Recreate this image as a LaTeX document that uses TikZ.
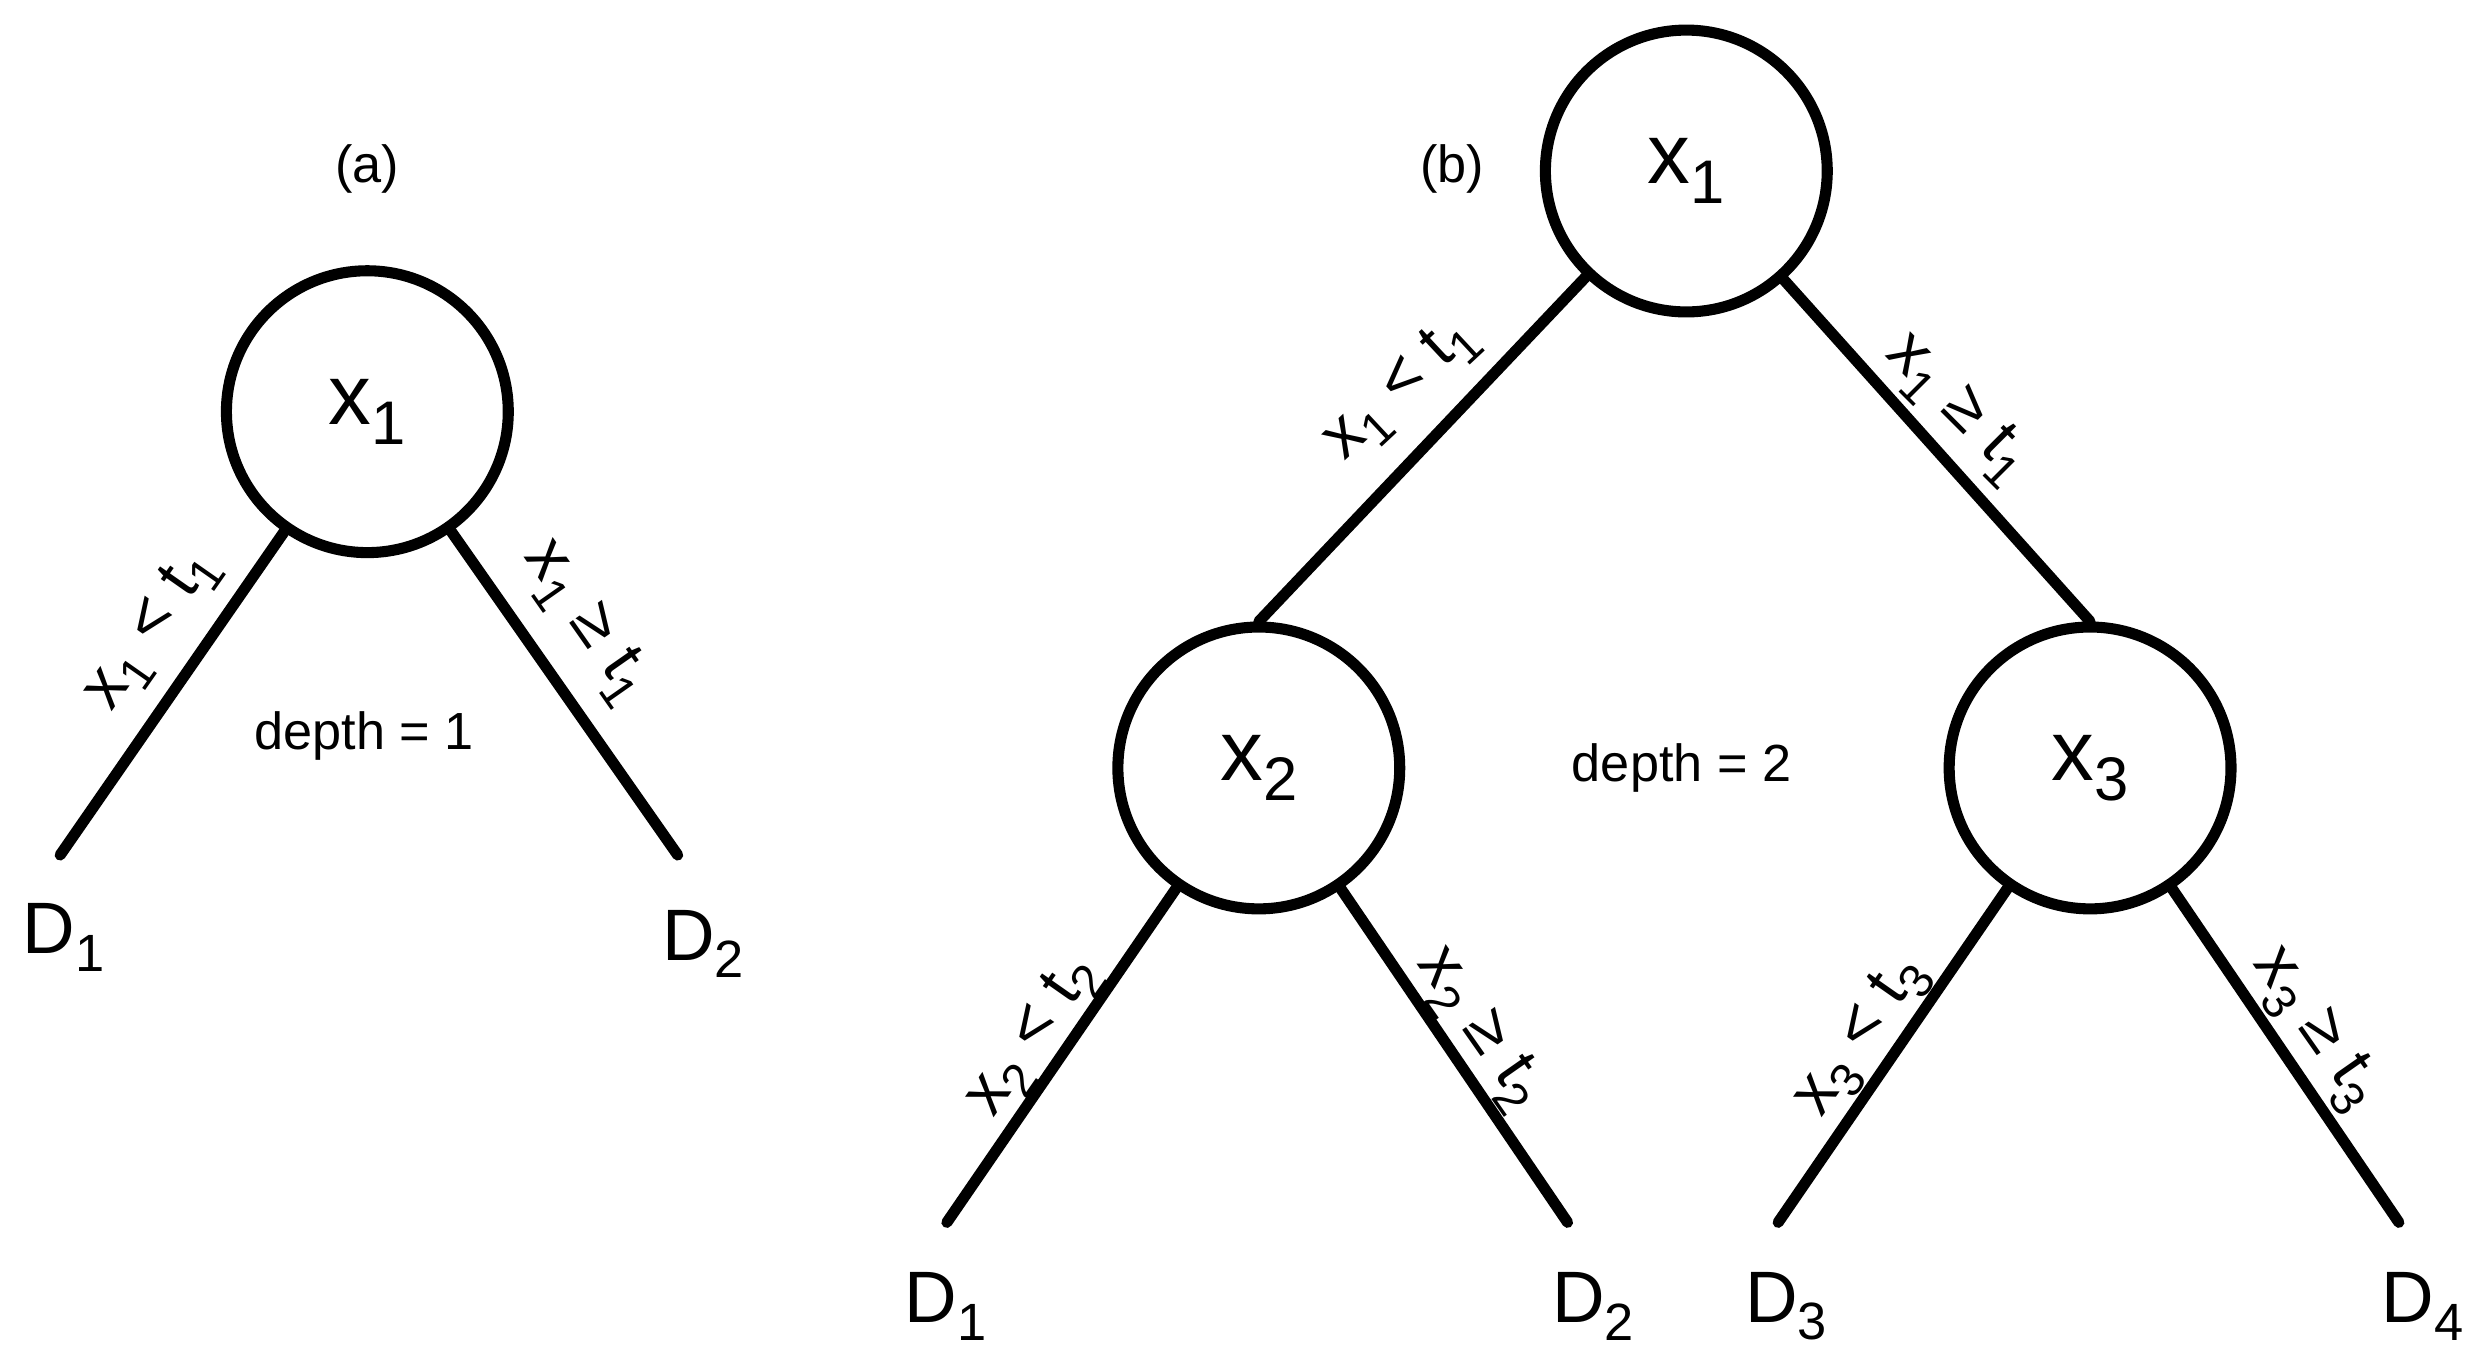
\documentclass[tikz,border=0pt]{standalone}
\usepackage{fontspec}
\setmainfont{Liberation Sans}
\newcommand\sbs[1]{\raisebox{-0.45ex}{\scalebox{0.72}{#1}}}
\begin{document}
\begin{tikzpicture}[x=1pt,y=-1pt,
  nd/.style={circle,draw,line width=7pt,minimum size=178pt,inner sep=0pt,font=\fontsize{54}{58}\selectfont},
  ln/.style={line width=7pt,line cap=round},
  lf/.style={font=\fontsize{46}{50}\selectfont},
  el/.style={font=\fontsize{42}{46}\selectfont,inner sep=0pt},
  tl/.style={font=\fontsize{33}{37}\selectfont}]
\useasboundingbox (0,0) rectangle (1565,857);
% (a)
\node[tl] (la) at (232,107) {(a)};
\node[nd] (a) at (232,260) {x\sbs{1}};
\coordinate (a1) at (38,540);
\coordinate (a2) at (428,540);
\draw[ln] (a) -- (a1);
\draw[ln] (a) -- (a2);
\node[lf] (ad1) at (40,592) {D\sbs{1}};
\node[lf] (ad2) at (444,596) {D\sbs{2}};
\node[tl] (da) at (230,465) {depth = 1};
\node[el,rotate=55] (ea1) at (96,398) {x\sbs{1} < t\sbs{1}};
\node[el,rotate=-55] (ea2) at (370,393) {x\sbs{1} ≥ t\sbs{1}};
% (b)
\node[tl] (lb) at (917,107) {(b)};
\node[nd] (r) at (1065,108) {x\sbs{1}};
\node[nd] (b2) at (795,485) {x\sbs{2}};
\node[nd] (b3) at (1320,485) {x\sbs{3}};
\draw[ln] (r) -- (b2.north);
\draw[ln] (r) -- (b3.north);
\coordinate (c1) at (598,772);
\coordinate (c2) at (990,772);
\coordinate (c3) at (1123,772);
\coordinate (c4) at (1515,772);
\draw[ln] (b2) -- (c1);
\draw[ln] (b2) -- (c2);
\draw[ln] (b3) -- (c3);
\draw[ln] (b3) -- (c4);
\node[lf] (bd1) at (597,825) {D\sbs{1}};
\node[lf] (bd2) at (1006,825) {D\sbs{2}};
\node[lf] (bd3) at (1128,825) {D\sbs{3}};
\node[lf] (bd4) at (1530,825) {D\sbs{4}};
\node[tl] (db) at (1062,485) {depth = 2};
\node[el,rotate=43] (eb1) at (885,246) {x\sbs{1} < t\sbs{1}};
\node[el,rotate=-45] (eb2) at (1236,258) {x\sbs{1} ≥ t\sbs{1}};
\node[el,rotate=55] (eb3) at (653,655) {x\sbs{2} < t\sbs{2}};
\node[el,rotate=-55] (eb4) at (934,650) {x\sbs{2} ≥ t\sbs{2}};
\node[el,rotate=55] (eb5) at (1176,655) {x\sbs{3} < t\sbs{3}};
\node[el,rotate=-55] (eb6) at (1462,650) {x\sbs{3} ≥ t\sbs{3}};
\end{tikzpicture}
\end{document}
